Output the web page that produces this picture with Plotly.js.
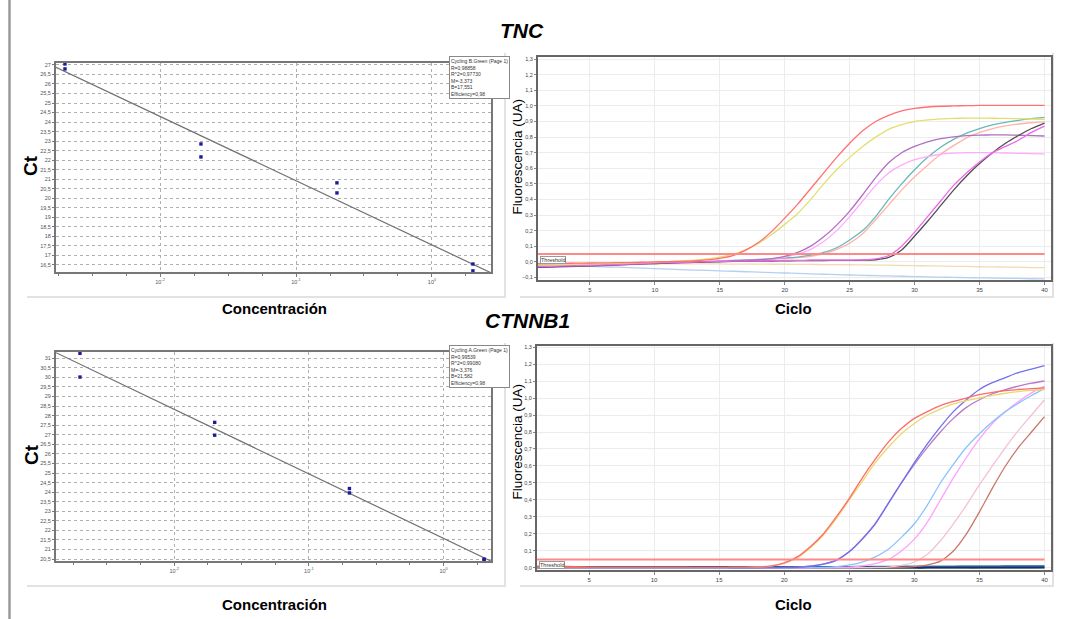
<!DOCTYPE html>
<html>
<head>
<meta charset="utf-8">
<script src="https://cdn.plot.ly/plotly-3.0.1.min.js"></script>
<style>html,body{margin:0;padding:0;background:#fff;}#chart{width:1076px;height:619px;}</style>
</head>
<body>
<div id="chart"></div>
<script>
// ---------------- DATA ----------------
// Standard curves (concentration of the 1:10 dilutions, duplicates)
var concentrations = [0.002, 0.002, 0.02, 0.02, 0.2, 0.2, 2, 2];
var tncCt    = [27.05, 26.79, 22.85, 22.17, 20.81, 20.28, 16.55, 16.19];
var ctnnb1Ct = [31.26, 30.02, 27.65, 26.98, 24.19, 23.96, 20.50, 20.46];
var concTickVals = [0.01, 0.1, 1];
var concTickText = ["10<sup>-2</sup>", "10<sup>-1</sup>", "10<sup>0</sup>"];
var tncFit    = {M: -3.373, B: 17.551, text: ["Cycling B.Green (Page 1)", "R=0,98858", "R^2=0,97730", "M=-3,373", "B=17,551", "Efficiency=0,98"]};
var ctnnb1Fit = {M: -3.376, B: 21.582, text: ["Cycling A.Green (Page 1)", "R=0,99539", "R^2=0,99080", "M=-3,376", "B=21,582", "Efficiency=0,98"]};

// Amplification curves
var cycles = [1,2,3,4,5,6,7,8,9,10,11,12,13,14,15,16,17,18,19,20,21,22,23,24,25,26,27,28,29,30,31,32,33,34,35,36,37,38,39,40];
var cycleTicks = [5,10,15,20,25,30,35,40];
var threshold = 0.05;

var tncRed = [-0.012,-0.011,-0.010,-0.009,-0.008,-0.007,-0.006,-0.005,-0.003,-0.001,0.001,0.003,0.006,0.012,0.022,0.040,0.075,0.125,0.195,0.280,0.370,0.470,0.570,0.670,0.760,0.840,0.900,0.940,0.968,0.984,0.993,0.998,1.000,1.002,1.003,1.003,1.003,1.003,1.003,1.003];
var tncYellow = [-0.020,-0.019,-0.018,-0.016,-0.014,-0.012,-0.010,-0.008,-0.005,-0.002,0.001,0.005,0.010,0.018,0.030,0.048,0.078,0.120,0.175,0.240,0.310,0.400,0.500,0.590,0.670,0.740,0.800,0.850,0.880,0.900,0.910,0.917,0.920,0.922,0.922,0.921,0.920,0.918,0.916,0.914];
var tncPurple = [-0.036,-0.034,-0.032,-0.030,-0.027,-0.024,-0.021,-0.018,-0.015,-0.012,-0.009,-0.006,-0.003,0.000,0.003,0.006,0.009,0.013,0.020,0.035,0.060,0.100,0.160,0.235,0.325,0.430,0.540,0.635,0.700,0.740,0.770,0.790,0.802,0.810,0.813,0.814,0.814,0.812,0.810,0.807];
var tncPink = [-0.028,-0.027,-0.025,-0.023,-0.021,-0.019,-0.017,-0.014,-0.011,-0.008,-0.005,-0.002,0.000,0.002,0.004,0.006,0.009,0.013,0.019,0.030,0.050,0.080,0.130,0.200,0.290,0.390,0.490,0.570,0.620,0.655,0.675,0.690,0.697,0.700,0.700,0.700,0.698,0.696,0.694,0.692];
var tncTeal = [-0.022,-0.021,-0.020,-0.018,-0.016,-0.014,-0.012,-0.010,-0.008,-0.006,-0.004,-0.002,0.000,0.003,0.006,0.009,0.012,0.015,0.019,0.025,0.030,0.042,0.060,0.090,0.140,0.200,0.290,0.400,0.500,0.590,0.670,0.735,0.785,0.825,0.855,0.878,0.895,0.908,0.918,0.926];
var tncSalmon = [-0.025,-0.024,-0.022,-0.020,-0.018,-0.016,-0.014,-0.012,-0.010,-0.008,-0.006,-0.004,-0.002,0.000,0.003,0.006,0.009,0.012,0.016,0.020,0.026,0.035,0.050,0.080,0.120,0.180,0.270,0.365,0.460,0.545,0.620,0.690,0.745,0.795,0.830,0.855,0.872,0.884,0.892,0.898];
var tncMagenta = [-0.030,-0.029,-0.027,-0.025,-0.023,-0.021,-0.018,-0.015,-0.012,-0.009,-0.006,-0.004,-0.002,0.000,0.002,0.004,0.005,0.006,0.007,0.008,0.009,0.010,0.010,0.011,0.011,0.012,0.018,0.040,0.100,0.190,0.290,0.390,0.490,0.570,0.640,0.700,0.740,0.780,0.830,0.870];
var tncGray = [-0.034,-0.032,-0.030,-0.028,-0.026,-0.023,-0.020,-0.017,-0.014,-0.011,-0.008,-0.006,-0.004,-0.002,0.000,0.002,0.003,0.004,0.005,0.006,0.007,0.008,0.008,0.009,0.009,0.010,0.013,0.028,0.075,0.165,0.260,0.360,0.460,0.550,0.630,0.700,0.760,0.810,0.855,0.890];
var tncBeige = [-0.010,-0.010,-0.011,-0.011,-0.011,-0.012,-0.012,-0.012,-0.012,-0.013,-0.013,-0.013,-0.014,-0.014,-0.014,-0.015,-0.015,-0.015,-0.016,-0.016,-0.017,-0.017,-0.018,-0.018,-0.019,-0.020,-0.021,-0.022,-0.024,-0.025,-0.026,-0.028,-0.029,-0.030,-0.032,-0.033,-0.034,-0.035,-0.037,-0.038];
var tncLightBlue = [-0.022,-0.024,-0.026,-0.027,-0.029,-0.032,-0.035,-0.038,-0.041,-0.044,-0.047,-0.050,-0.053,-0.055,-0.058,-0.061,-0.064,-0.067,-0.070,-0.072,-0.075,-0.078,-0.080,-0.083,-0.085,-0.087,-0.089,-0.091,-0.093,-0.095,-0.097,-0.099,-0.100,-0.102,-0.103,-0.105,-0.106,-0.107,-0.109,-0.110];

var ctRed = [0.004,0.004,0.003,0.003,0.003,0.003,0.003,0.003,0.003,0.003,0.003,0.003,0.003,0.003,0.003,0.003,0.004,0.006,0.012,0.030,0.065,0.125,0.200,0.300,0.410,0.530,0.640,0.740,0.820,0.880,0.920,0.955,0.980,1.000,1.020,1.033,1.043,1.050,1.055,1.060];
var ctYellow = [0.002,0.002,0.002,0.002,0.002,0.002,0.002,0.002,0.002,0.002,0.002,0.002,0.002,0.002,0.002,0.003,0.004,0.006,0.011,0.027,0.060,0.118,0.192,0.290,0.400,0.510,0.620,0.710,0.790,0.850,0.900,0.935,0.965,0.985,1.000,1.015,1.028,1.038,1.045,1.050];
var ctBlue = [0.001,0.001,0.001,0.001,0.001,0.001,0.001,0.001,0.001,0.001,0.001,0.001,0.001,0.001,0.001,0.001,0.001,0.001,0.002,0.002,0.004,0.010,0.022,0.045,0.095,0.170,0.260,0.380,0.500,0.620,0.730,0.830,0.920,0.990,1.050,1.090,1.120,1.150,1.170,1.190];
var ctPurple = [0.002,0.002,0.002,0.002,0.002,0.002,0.002,0.002,0.002,0.002,0.002,0.002,0.002,0.002,0.002,0.002,0.002,0.002,0.002,0.003,0.005,0.011,0.023,0.047,0.097,0.172,0.262,0.380,0.500,0.610,0.710,0.800,0.880,0.945,0.990,1.025,1.050,1.070,1.087,1.100];
var ctLightBlue = [0.001,0.001,0.001,0.001,0.001,0.001,0.001,0.001,0.001,0.001,0.001,0.001,0.001,0.001,0.001,0.001,0.001,0.001,0.001,0.001,0.002,0.003,0.004,0.008,0.018,0.035,0.065,0.110,0.180,0.260,0.370,0.500,0.610,0.710,0.790,0.860,0.920,0.970,1.015,1.055];
var ctPink = [0.000,0.000,0.000,0.000,0.000,0.000,0.000,0.000,0.000,0.000,0.000,0.000,0.000,0.000,0.000,0.000,0.000,0.000,0.000,0.000,0.001,0.001,0.002,0.003,0.005,0.012,0.025,0.050,0.100,0.170,0.270,0.400,0.530,0.650,0.760,0.850,0.920,0.980,1.030,1.070];
var ctPalePink = [0.000,0.000,0.000,0.000,0.000,0.000,0.000,0.000,0.000,0.000,0.000,0.000,0.000,0.000,0.000,0.000,0.000,0.000,0.000,0.000,0.000,0.000,0.000,0.001,0.001,0.002,0.003,0.005,0.015,0.035,0.080,0.160,0.260,0.370,0.490,0.600,0.710,0.810,0.900,0.990];
var ctBrown = [0.010,0.010,0.009,0.008,0.004,0.002,0.002,0.002,0.002,0.002,0.002,0.002,0.002,0.002,0.002,0.002,0.002,0.002,0.002,0.002,0.002,0.002,0.002,0.002,0.002,0.002,0.002,0.002,0.003,0.008,0.018,0.040,0.100,0.200,0.330,0.470,0.600,0.710,0.800,0.890];
var ctNavy = [0.003,0.003,0.002,0.002,0.002,0.002,0.002,0.002,0.002,0.002,0.002,0.002,0.002,0.002,0.002,0.002,0.002,0.002,0.002,0.002,0.002,0.002,0.002,0.002,0.002,0.002,0.002,0.002,0.002,0.002,0.002,0.003,0.003,0.003,0.003,0.003,0.003,0.003,0.003,0.003];
var ctTeal = [0.004,0.004,0.004,0.004,0.004,0.004,0.004,0.004,0.004,0.004,0.004,0.004,0.005,0.005,0.005,0.005,0.005,0.005,0.005,0.005,0.005,0.006,0.006,0.006,0.006,0.007,0.007,0.007,0.008,0.008,0.008,0.009,0.009,0.010,0.010,0.010,0.011,0.011,0.012,0.012];
var ctGreen = [0.000,0.000,0.000,0.000,0.000,0.000,0.000,0.000,0.000,0.000,0.000,0.000,0.000,0.000,0.000,0.000,0.000,0.000,0.000,0.000,0.000,0.000,0.000,0.001,0.001,0.001,0.001,0.001,0.001,0.001,0.002,0.002,0.002,0.002,0.002,0.003,0.003,0.003,0.003,0.004];

// ---------------- LAYOUT HELPERS ----------------
var W = 1076, H = 619;
function X(px){ return px / W; }
function Y(py){ return 1 - py / H; }
var FONT = "Liberation Sans, Arial, sans-serif";

var logConc = concentrations.map(function(c){ return Math.log10(c); });
var stdRange1 = [-2.765, 0.434];
var stdRange3 = [-2.877, 0.352];

var traces = [];
function stdTraces(ct, fit, xa, ya, xr){
  traces.push({x: xr, y: xr.map(function(v){ return fit.M * v + fit.B; }), xaxis: xa, yaxis: ya,
    mode: 'lines', line: {color: '#707070', width: 1.2}, hoverinfo: 'skip'});
  traces.push({x: logConc, y: ct, xaxis: xa, yaxis: ya, mode: 'markers',
    marker: {color: '#1c1c9c', size: 3.4, symbol: 'square'}});
}
stdTraces(tncCt, tncFit, 'x', 'y', stdRange1);
stdTraces(ctnnb1Ct, ctnnb1Fit, 'x3', 'y3', stdRange3);

function amp(y, color, xa, ya, w){
  traces.push({x: cycles, y: y, xaxis: xa, yaxis: ya, mode: 'lines',
    line: {color: color, width: w || 1.3, shape: 'spline', smoothing: 0.6}});
}
amp(tncLightBlue, '#b4d0f0', 'x2', 'y2');
amp(tncBeige, '#f0dcb0', 'x2', 'y2');
amp(tncSalmon, '#ffb4aa', 'x2', 'y2');
amp(tncTeal, '#68b8b8', 'x2', 'y2');
amp(tncPink, '#ffaaff', 'x2', 'y2');
amp(tncPurple, '#b070c0', 'x2', 'y2');
amp(tncGray, '#505050', 'x2', 'y2');
amp(tncMagenta, '#ee66ee', 'x2', 'y2');
amp(tncYellow, '#e0e070', 'x2', 'y2');
amp(tncRed, '#ff7070', 'x2', 'y2');
traces.push({x: [cycles[0], cycles[cycles.length-1]], y: [threshold, threshold], xaxis: 'x2', yaxis: 'y2',
  mode: 'lines', line: {color: '#ff8888', width: 2}});

amp(ctGreen, '#6a9a3a', 'x4', 'y4', 2);
amp(ctTeal, '#3a8aa8', 'x4', 'y4', 2);
amp(ctNavy, '#1c2a70', 'x4', 'y4', 2);
amp(ctBrown, '#c87868', 'x4', 'y4');
amp(ctPalePink, '#f4c0d8', 'x4', 'y4');
amp(ctPink, '#ffa0ff', 'x4', 'y4');
amp(ctLightBlue, '#88c4ff', 'x4', 'y4');
amp(ctPurple, '#b878c8', 'x4', 'y4');
amp(ctBlue, '#7070ee', 'x4', 'y4');
amp(ctYellow, '#e8d870', 'x4', 'y4');
amp(ctRed, '#ff6a6a', 'x4', 'y4');
traces.push({x: [cycles[0], cycles[cycles.length-1]], y: [threshold, threshold], xaxis: 'x4', yaxis: 'y4',
  mode: 'lines', line: {color: '#ff8888', width: 2}});

// ---------------- AXES ----------------
function stdX(domain, range, anchor){
  return {domain: domain, range: range, anchor: anchor, tickvals: concTickVals.map(function(v){return Math.log10(v);}),
    ticktext: concTickText, showgrid: true, gridcolor: '#b0b0b0', griddash: 'dot', gridwidth: 1,
    zeroline: false, showline: true, linecolor: '#777', linewidth: 2, mirror: true,
    ticks: 'outside', ticklen: 3, tickcolor: '#777', tickfont: {size: 5.5, color: '#555', family: FONT},
    minor: {dtick: 0.25, tick0: 0, ticks: 'outside', ticklen: 2, tickcolor: '#777', showgrid: false}};
}
function stdY(domain, range, anchor){
  return {domain: domain, range: range, anchor: anchor, dtick: 0.5, tick0: 0, showgrid: true, gridcolor: '#b0b0b0',
    griddash: 'dot', zeroline: false, showline: true, linecolor: '#777', linewidth: 2, mirror: true,
    ticks: 'outside', ticklen: 2, tickcolor: '#777', tickfont: {size: 5.5, color: '#555', family: FONT}};
}
function ampX(domain, anchor){
  return {domain: domain, range: [1, 40.5], anchor: anchor, tickvals: cycleTicks, showgrid: true, gridcolor: '#ececec',
    zeroline: false, showline: true, linecolor: '#666', linewidth: 2, mirror: true,
    ticks: 'outside', ticklen: 3, tickcolor: '#888', tickfont: {size: 6, color: '#444', family: FONT}};
}
function ampY(domain, range, anchor){
  return {domain: domain, range: range, anchor: anchor, dtick: 0.1, tick0: 0, tickformat: '.1f', showgrid: true,
    gridcolor: '#ececec', zeroline: false, showline: true, linecolor: '#666', linewidth: 2, mirror: true,
    ticks: 'outside', ticklen: 2, tickcolor: '#888', tickfont: {size: 5.5, color: '#444', family: FONT}};
}

function legendBox(fit, py){
  return {xref: 'paper', yref: 'paper', x: X(449), y: Y(py), xanchor: 'left', yanchor: 'top',
    text: fit.text.join('<br>'), showarrow: false, align: 'left',
    font: {size: 5, color: '#333', family: FONT}, bgcolor: '#fff', bordercolor: '#888', borderwidth: 1, borderpad: 1};
}
function label(text, px, py, size, angle){
  return {xref: 'paper', yref: 'paper', x: X(px), y: Y(py), xanchor: 'center', yanchor: 'middle',
    text: text, showarrow: false, textangle: angle || 0, font: {size: size, color: '#000', family: FONT}};
}
function thrLabel(px, py){
  return {xref: 'paper', yref: 'paper', x: X(px), y: Y(py), xanchor: 'left', yanchor: 'top',
    text: 'Threshold', showarrow: false, font: {size: 5.5, color: '#333', family: FONT},
    bgcolor: '#fff', bordercolor: '#999', borderwidth: 1, borderpad: 0};
}
function ln(x0, y0, x1, y1, color, w){
  return {type: 'line', xref: 'paper', yref: 'paper', x0: X(x0), y0: Y(y0), x1: X(x1), y1: Y(y1),
    line: {color: color, width: w}, layer: 'below'};
}

var layout = {
  width: W, height: H, margin: {l: 0, r: 0, t: 0, b: 0},
  paper_bgcolor: '#fff', plot_bgcolor: '#fff', showlegend: false,
  separators: ',.', font: {family: FONT},
  xaxis:  stdX([X(56), X(491)], stdRange1, 'y'),
  yaxis:  stdY([Y(272), Y(63)], [16.13, 27.1], 'x'),
  xaxis2: ampX([X(538), X(1051)], 'y2'),
  yaxis2: ampY([Y(280), Y(57)], [-0.117, 1.314], 'x2'),
  xaxis3: stdX([X(56), X(491)], stdRange3, 'y3'),
  yaxis3: stdY([Y(561), Y(352)], [20.4, 31.33], 'x3'),
  xaxis4: ampX([X(537), X(1051)], 'y4'),
  yaxis4: ampY([Y(570), Y(346)], [-0.012, 1.306], 'x4'),
  annotations: [
    label('<b><i>TNC</i></b>', 522, 30, 21),
    label('<b><i>CTNNB1</i></b>', 527, 320, 21),
    label('<b>Ct</b>', 31, 166, 19, -90),
    label('<b>Ct</b>', 31, 455, 19, -90),
    label('<b>Concentración</b>', 274, 308, 15),
    label('<b>Concentración</b>', 274, 604, 15),
    label('<b>Ciclo</b>', 793, 308, 15),
    label('<b>Ciclo</b>', 793, 604, 15),
    label('Fluorescencia (UA)', 516.5, 157, 13.5, -90),
    label('Fluorescencia (UA)', 516.5, 442, 13.5, -90),
    legendBox(tncFit, 56),
    legendBox(ctnnb1Fit, 345),
    thrLabel(540, 255.5),
    thrLabel(538.5, 560.5)
  ],
  shapes: [
    ln(9.5, 0, 9.5, 619, '#9a9a9a', 2.5),
    ln(27, 297, 506, 297, '#e2e2e2', 2),
    ln(505, 53, 505, 297, '#e2e2e2', 2),
    ln(520, 297, 1054, 297, '#e2e2e2', 2),
    ln(1053, 53, 1053, 297, '#e2e2e2', 2),
    ln(27, 586, 506, 586, '#e2e2e2', 2),
    ln(505, 343, 505, 586, '#e2e2e2', 2),
    ln(520, 586, 1054, 586, '#e2e2e2', 2),
    ln(1053, 343, 1053, 586, '#e2e2e2', 2)
  ]
};

Plotly.newPlot('chart', traces, layout, {staticPlot: true, displayModeBar: false});
</script>
</body>
</html>
